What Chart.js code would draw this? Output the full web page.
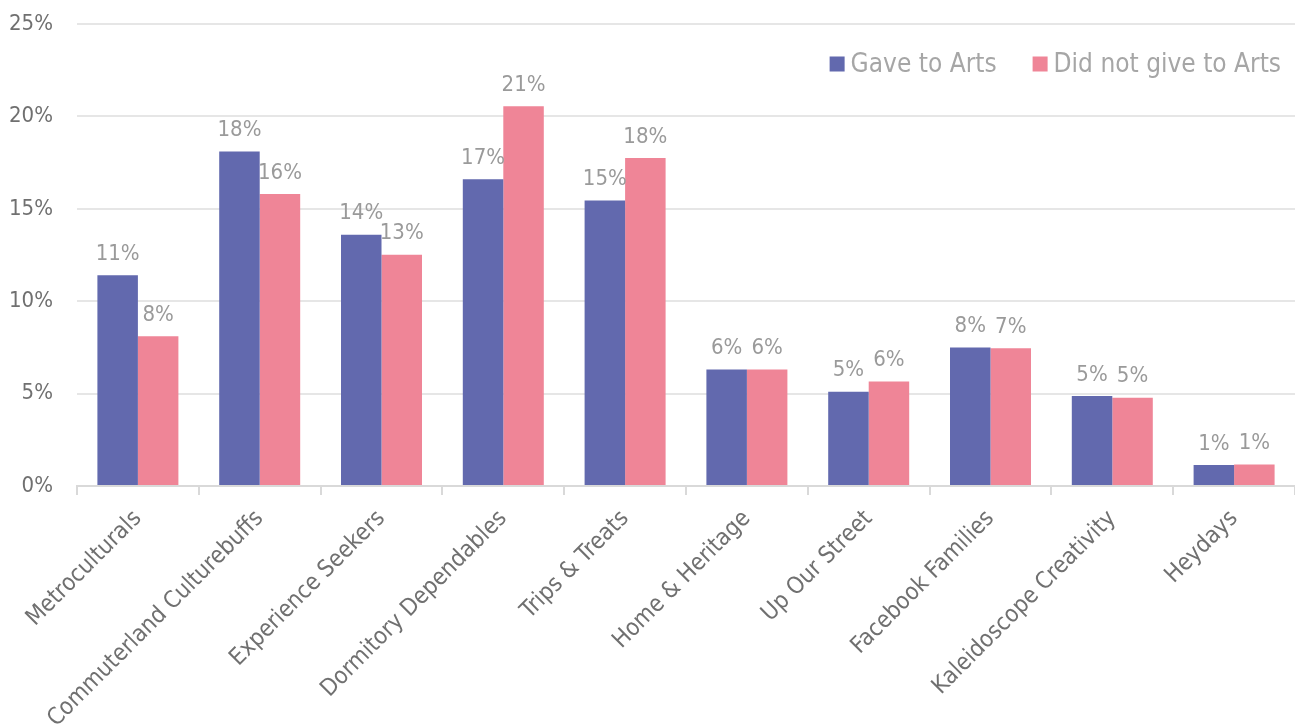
<!DOCTYPE html>
<html>
<head>
<meta charset="utf-8">
<script src="https://cdn.jsdelivr.net/npm/chart.js@4.4.1/dist/chart.umd.min.js"></script>
<style>
    body { margin:0; background:#fff; }
    #wrap { width:1295px; height:724px; position:relative; }
</style>
</head>
<body>
<div id="wrap"><canvas id="segment_chart"></canvas></div>
<script>
const segments = ['Metroculturals','Commuterland Culturebuffs','Experience Seekers','Dormitory Dependables','Trips & Treats','Home & Heritage','Up Our Street','Facebook Families','Kaleidoscope Creativity','Heydays'];
const gaveArts = [11.4, 18.1, 13.6, 16.6, 15.45, 6.3, 5.1, 7.5, 4.87, 1.13];
const notGaveArts = [8.1, 15.8, 12.52, 20.55, 17.75, 6.3, 5.65, 7.45, 4.78, 1.17];
const yTicks = [0, 5, 10, 15, 20, 25];

const fontFamily = '"DejaVu Sans Condensed", "DejaVu Sans", sans-serif';

// value labels above each bar
const barLabels = {
    id:'barLabels',
    afterDatasetsDraw(chart){
        const c = chart.ctx;
        c.save();
        c.font = '22px ' + fontFamily;
        c.fillStyle = '#9a9a9a';
        c.textAlign = 'center';
        c.textBaseline = 'bottom';
        chart.data.datasets.forEach(function(ds, i){
            chart.getDatasetMeta(i).data.forEach(function(bar, j){
                c.fillText(Math.round(ds.data[j]) + '%', bar.x, bar.y - 10);
            });
        });
        c.restore();
    }
};

// legend sits inside the plot, top right
const innerLegend = {
    id:'innerLegend',
    afterDraw(chart){
        const c = chart.ctx;
        c.save();
        c.font = '26px ' + fontFamily;
        c.textBaseline = 'middle';
        c.textAlign = 'left';
        const box = 15, gapText = 6, gapItem = 36, yMid = 64;
        const sets = chart.data.datasets;
        let total = 0;
        sets.forEach(function(ds, i){
            total += box + gapText + c.measureText(ds.label).width;
            if (i < sets.length - 1) total += gapItem;
        });
        let x = 1281 - total;
        sets.forEach(function(ds){
            c.fillStyle = ds.backgroundColor;
            c.fillRect(x, yMid - box/2, box, box);
            x += box + gapText;
            c.fillStyle = '#a6a6a6';
            c.fillText(ds.label, x, yMid + 1);
            x += c.measureText(ds.label).width + gapItem;
        });
        c.restore();
    }
};

const ctxsc = document.getElementById('segment_chart').getContext('2d');
const chartsc = new Chart(ctxsc,{
    type:'bar',
    data:{
        labels:segments,
        datasets:[{
            label:'Gave to Arts',
            data:gaveArts,
            backgroundColor:'#6269ae',
            borderWidth:0
        },{
            label:'Did not give to Arts',
            data:notGaveArts,
            backgroundColor:'#ef8597',
            borderWidth:0
        }]
    },
    options:{
        responsive:true,
        maintainAspectRatio:false,
        animation:false,
        layout:{ padding:{ top:24, left:8, right:0, bottom:0 } },
        datasets:{ bar:{ categoryPercentage:0.665, barPercentage:1 } },
        plugins:{
            legend:{ display:false },
            tooltip:{ enabled:false }
        },
        scales:{
            x:{
                // fixed band for the slanted names, which may hang past the plot edge
                afterFit(scale){ scale.height = 238; },
                afterUpdate(scale){
                    scale.paddingLeft = 0;
                    scale.paddingRight = 0;
                },
                grid:{
                    offset:true,
                    drawOnChartArea:false,
                    color:'#d9d9d9',
                    lineWidth:2,
                    tickLength:9
                },
                border:{ color:'#d9d9d9', width:2 },
                ticks:{
                    minRotation:45,
                    maxRotation:45,
                    color:'#707070',
                    padding:10,
                    font:{ family:fontFamily, size:23.5 }
                }
            },
            y:{
                min:0,
                max:25,
                afterBuildTicks(scale){
                    scale.ticks = yTicks.map(v => ({ value:v }));
                },
                afterFit(scale){ scale.width = 69; },
                afterUpdate(scale){
                    scale.paddingTop = 0;
                    scale.paddingBottom = 0;
                },
                grid:{
                    color:'#e6e6e6',
                    lineWidth:2,
                    drawTicks:false
                },
                border:{ display:false },
                ticks:{
                    color:'#707070',
                    padding:24,
                    font:{ family:fontFamily, size:22 },
                    callback:v => v + '%'
                }
            }
        }
    },
    plugins:[barLabels, innerLegend]
});
</script>
</body>
</html>
